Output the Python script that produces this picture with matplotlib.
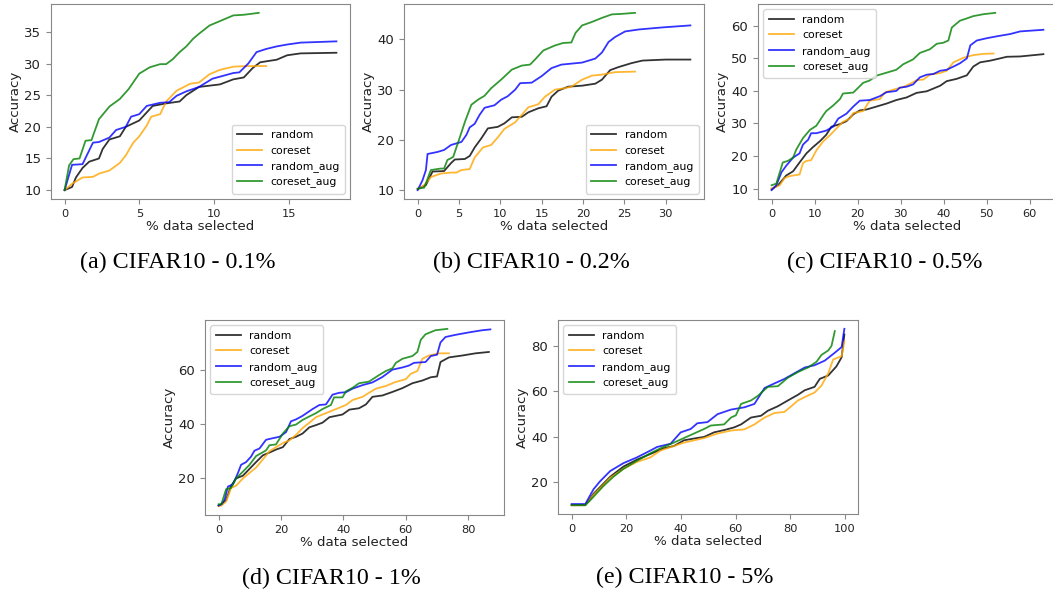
import matplotlib
matplotlib.use("Agg")
import matplotlib.pyplot as plt

# ========== データ ==========
LABELS = ['random', 'coreset', 'random_aug', 'coreset_aug']
COLORS = ['black', 'orange', 'blue', 'green']

# (a) CIFAR10 - 0.1%
a_random_x = [0, 0.5, 0.76, 1.2, 1.65, 2.3, 2.55, 3.0, 3.7, 4.1, 5.0, 5.9, 6.8, 7.7, 8.15, 9.0,
              10.4, 11.3, 12.0, 12.6, 13.1, 14.2, 14.9, 15.8, 18.2]
a_random_y = [10, 10.5, 12, 13.5, 14.5, 15, 16.5, 18, 18.5, 20, 21, 23.3, 23.7, 24, 25, 26.3,
              26.7, 27.5, 27.8, 29.3, 30.2, 30.6, 31.3, 31.6, 31.7]
a_coreset_x = [0, 0.5, 1.2, 1.9, 2.3, 3.0, 3.7, 4.1, 4.6, 5.0, 5.5, 5.8, 6.4, 6.8, 7.5, 8.4,
               9.0, 9.7, 10.4, 11.3, 12.2, 13.5]
a_coreset_y = [10, 11, 12, 12.1, 12.6, 13.1, 14.3, 15.5, 17.5, 18.5, 20.2, 21.6, 22, 24, 25.7, 26.8,
               27, 28.3, 29, 29.5, 29.6, 29.6]
a_raug_x = [0, 0.5, 1.2, 1.9, 2.3, 3.0, 3.45, 4.1, 4.45, 5.0, 5.5, 6.4, 7.0, 7.5, 8.15, 9.0,
            9.9, 11.3, 11.7, 12.3, 12.85, 13.5, 14.2, 14.9, 15.8, 18.2]
a_raug_y = [10, 14.0, 14.1, 17.5, 17.6, 18.3, 19.5, 20, 21.6, 22, 23.3, 23.8, 23.9, 24.9, 25.6, 26.3,
            27.6, 28.5, 28.6, 30, 31.8, 32.3, 32.7, 33.0, 33.3, 33.5]
a_caug_x = [0, 0.3, 0.6, 1.0, 1.4, 1.8, 2.3, 3.0, 3.7, 4.3, 5.0, 5.7, 6.4, 6.8, 7.25, 7.7,
            8.15, 8.6, 9.0, 9.7, 10.4, 11.3, 12.0, 13.0]
a_caug_y = [10, 13.9, 14.9, 15.0, 17.8, 17.9, 21.2, 23.2, 24.4, 26, 28.4, 29.4, 29.9, 29.9, 30.7, 31.8,
            32.7, 33.9, 34.7, 36, 36.7, 37.6, 37.7, 38.0]

# (b) CIFAR10 - 0.2%
b_random_x = [0, 1.0, 1.8, 3.2, 4.05, 4.5, 5.7, 6.3, 6.9, 7.7, 8.5, 9.7, 10.5, 11.4, 12.6, 13.4,
              14.6, 15.6, 16.2, 17.0, 18.2, 19.9, 21.5, 22.3, 23.3, 24.3, 25.9, 27.2, 30.0, 33.0]
b_random_y = [10.2, 11, 13.7, 13.8, 15.4, 16.1, 16.2, 16.8, 18.5, 20.3, 22.3, 22.6, 23.3, 24.5, 24.6, 25.5,
              26.3, 26.7, 28.6, 29.8, 30.6, 30.8, 31.2, 32, 33.9, 34.5, 35.3, 35.8, 36, 36]
b_coreset_x = [0, 0.8, 1.6, 2.8, 4.05, 4.7, 5.3, 6.3, 6.9, 7.9, 8.9, 9.7, 10.5, 11.8, 12.6, 13.4,
               14.6, 15.4, 16.6, 17.8, 18.6, 19.9, 21.1, 22.3, 23.9, 26.3]
b_coreset_y = [10.2, 11, 12.6, 13.3, 13.5, 13.5, 14, 14.2, 16.5, 18.5, 19, 20.5, 22.2, 23.5, 25, 26.5,
               27.1, 28.6, 30, 30.3, 30.6, 32, 32.8, 33, 33.5, 33.6]
b_raug_x = [0, 0.6, 1.0, 1.2, 2.4, 3.2, 4.05, 5.3, 5.9, 6.3, 6.9, 7.5, 8.1, 9.3, 10.1, 10.9,
            11.8, 12.4, 13.8, 15.0, 16.2, 17.4, 19.9, 21.5, 22.3, 23.1, 23.9, 25.1, 26.8, 29.6, 33.0]
b_raug_y = [10, 12, 14, 17.2, 17.6, 18, 19, 19.6, 21, 22.5, 23.2, 25, 26.4, 26.9, 28, 28.7,
            30, 31.3, 31.4, 32.7, 34.3, 35, 35.4, 36.2, 37.4, 39.5, 40.5, 41.6, 42, 42.4, 42.8]
b_caug_x = [0, 0.8, 1.6, 2.8, 3.2, 3.6, 4.3, 5.1, 5.7, 6.5, 7.3, 8.1, 8.9, 10.1, 11.4, 12.6,
            13.6, 14.2, 15.2, 16.6, 17.6, 18.6, 19.1, 19.9, 21.1, 22.3, 23.5, 24.7, 26.3]
b_caug_y = [10.3, 10.5, 14, 14.3, 14.3, 16, 16.6, 20.5, 23.5, 27, 28, 28.8, 30.3, 32, 34, 34.8,
            35, 36, 37.8, 38.8, 39.3, 39.4, 41.3, 42.8, 43.5, 44.3, 45, 45.1, 45.3]

# (c) CIFAR10 - 0.5%
c_random_x = [0, 1.5, 3.4, 5.0, 6.5, 8.1, 9.6, 11.2, 12.7, 13.9, 15.9, 17.4, 19.0, 20.5, 22.1, 24.4,
              26.7, 29.0, 31.4, 33.7, 36.1, 39.2, 40.7, 43.0, 45.4, 46.9, 48.5, 50.8, 53.1, 54.7, 57.8, 63.2]
c_random_y = [9.8, 11, 14, 15.3, 18, 20.8, 22.7, 24.5, 26.5, 29, 29.8, 30.7, 32.8, 34, 34.3, 35.2,
              36.1, 37.2, 38, 39.4, 39.9, 41.6, 43, 43.7, 44.8, 47.5, 48.8, 49.3, 50, 50.5, 50.6, 51.3]
c_coreset_x = [0, 1.9, 3.0, 4.2, 5.0, 6.5, 7.3, 8.1, 9.2, 10.4, 12.0, 13.5, 15.1, 16.6, 18.2, 19.0,
               21.3, 22.8, 25.2, 26.3, 28.3, 30.6, 32.2, 33.7, 35.3, 36.8, 39.2, 40.7, 42.3, 44.6, 46.9,
               49.3, 51.6]
c_coreset_y = [10, 11, 13.2, 13.8, 14, 14.3, 17.8, 18.5, 18.7, 21.7, 24.5, 26.3, 28.5, 30.5, 31.5, 33.2,
               33.8, 37, 37.5, 39.5, 40.4, 41.2, 42.2, 43.3, 43.5, 45, 45.5, 46.2, 48.8, 50.2, 51,
               51.4, 51.5]
c_raug_x = [0, 1.1, 2.3, 3.4, 5.0, 6.5, 7.3, 8.5, 9.2, 10.4, 12.7, 14.3, 15.5, 17.4, 19.0, 20.5,
            22.8, 25.2, 26.7, 29.0, 29.8, 31.4, 32.9, 34.5, 36.1, 37.6, 39.2, 40.7, 42.3, 43.8, 45.4,
            46.2, 47.7, 50.0, 52.4, 55.5, 57.8, 63.2]
c_raug_y = [9.5, 11, 15, 17, 19.5, 20.8, 23.5, 25, 27, 27, 27.8, 29, 31.5, 33, 35.2, 37,
            37.2, 38.4, 39.6, 40, 41, 41.3, 42, 44.2, 45, 45.2, 46.2, 46.5, 47.5, 48.5, 50,
            54, 55.5, 56.2, 56.8, 57.5, 58.3, 58.8]
c_caug_x = [0, 1.1, 2.6, 3.8, 5.0, 5.75, 7.3, 8.9, 10.4, 12.0, 12.7, 14.3, 15.9, 16.6, 19.0, 21.3,
            22.8, 24.4, 26.7, 29.0, 30.6, 32.9, 34.5, 36.8, 38.4, 39.9, 41.1, 41.9, 43.8, 45.4, 46.9,
            49.3, 52.0]
c_caug_y = [11, 11.5, 18, 18.5, 19.5, 22, 25.5, 28, 29.3, 32.5, 33.8, 35.5, 37.5, 39.2, 39.5, 42.5,
            43.2, 44.7, 45.6, 46.5, 48.2, 49.7, 51.7, 52.8, 54.5, 54.8, 55.5, 59.5, 61.6, 62.3, 63,
            63.6, 64]

# (d) CIFAR10 - 1%
d_random_x = [0, 0.9, 2.4, 4.0, 5.6, 7.8, 9.9, 12.0, 14.2, 16.3, 18.4, 20.6, 22.7, 24.8, 26.9, 29.1,
              31.2, 33.3, 35.5, 37.6, 39.7, 41.9, 45.0, 47.2, 49.3, 52.5, 55.7, 58.9, 62.1, 65.3, 68.0,
              70.0, 71.1, 73.8, 78.1, 82.3, 86.6]
d_random_y = [10, 10.5, 12, 17.2, 20, 21, 23.5, 26, 28.5, 29.5, 30.6, 31.5, 34.5, 35.3, 36.5, 38.8,
              39.6, 40.5, 42.5, 43, 43.5, 45.3, 45.8, 47.2, 50, 50.5, 51.8, 53.2, 55, 56, 57.2,
              57.5, 62.8, 64.5, 65.2, 66, 66.5]
d_coreset_x = [0, 0.9, 2.4, 4.0, 5.6, 7.8, 9.9, 12.0, 14.2, 16.3, 18.4, 20.6, 22.7, 24.8, 26.9, 29.1,
               31.2, 34.4, 37.6, 40.8, 42.9, 46.1, 48.2, 50.4, 53.6, 56.8, 60.0, 61.6, 63.7, 65.3, 67.4,
               70.6, 73.8]
d_coreset_y = [9.8, 10, 11.5, 16.5, 17.3, 20, 22, 24, 27, 30, 31.5, 33, 34, 36, 38.5, 40.5,
               42.5, 44, 45.5, 47, 48.8, 50, 51.5, 53, 54, 55.5, 56.5, 58.5, 59.5, 64, 65.2,
               66, 66]
d_raug_x = [0, 0.9, 1.9, 3.0, 4.6, 6.2, 7.2, 8.8, 10.4, 11.5, 13.1, 15.2, 17.4, 19.5, 21.6, 23.2,
            24.8, 26.9, 30.1, 32.3, 34.4, 36.5, 38.7, 40.8, 42.9, 46.1, 49.3, 52.5, 55.7, 58.9, 61.0,
            62.6, 66.3, 68.0, 70.0, 71.1, 72.7, 75.9, 80.2, 84.5, 87.1]
d_raug_y = [10, 10.5, 12, 17, 17.8, 22, 25, 26, 28, 30.2, 31, 34.2, 34.8, 35.3, 37, 41,
            41.7, 43, 45.5, 47, 47.2, 50.8, 51.5, 51.7, 53, 54.3, 55.3, 57.3, 60, 60.8, 61.5,
            62.5, 62.8, 65, 65.5, 70, 72, 72.8, 73.7, 74.5, 74.8]
d_caug_x = [0, 0.9, 2.4, 4.0, 5.6, 7.8, 9.9, 12.0, 15.2, 16.3, 18.4, 20.6, 22.7, 24.8, 26.9, 29.1,
            31.2, 33.3, 36.0, 37.0, 39.7, 40.8, 42.9, 45.0, 48.2, 51.4, 53.6, 55.7, 56.8, 58.9, 62.1,
            63.7, 64.8, 66.3, 69.5, 73.3]
d_caug_y = [10.5, 10.5, 16, 16.5, 20, 22.5, 25, 28.2, 30.3, 32.2, 32.5, 36.5, 39.2, 39.8, 41.5, 42.8,
            44, 45.5, 47, 49.8, 49.8, 52, 53.3, 55, 55.6, 58, 59.5, 60.5, 62.5, 64, 65,
            66.5, 71, 73, 74.5, 75]

# (e) CIFAR10 - 5%
e_random_x = [0, 5, 8, 14.1, 19.0, 23.9, 28.8, 33.7, 37.4, 41.1, 44.8, 48.5, 52.1, 55.8, 59.5, 62.0,
              65.6, 69.3, 71.8, 75.5, 79.1, 82.8, 85.3, 88.9, 90.8, 93.9, 96.9, 98.8, 99.8]
e_random_y = [10, 10, 15, 22.5, 27, 30, 32.5, 35, 36, 38.5, 39.3, 40, 42, 43, 44.2, 45.5,
              48.5, 49.3, 51.5, 53.5, 56, 58.5, 60.5, 62, 65.5, 67, 71, 75, 85]
e_coreset_x = [0, 5, 8, 14.1, 19.0, 23.9, 28.8, 32.5, 37.4, 41.1, 44.8, 48.5, 53.4, 58.3, 63.2, 66.9,
               70.6, 74.2, 77.9, 80.4, 82.8, 85.3, 88.9, 91.4, 93.9, 95.7, 98.8, 99.8]
e_coreset_y = [10, 10, 14.5, 22, 26, 29, 31, 34, 36, 37.5, 38.5, 39.5, 41.5, 42.8, 43.3, 45.5,
               48.5, 50.5, 51, 53.5, 56, 57.5, 59.5, 62.5, 68, 74, 75.5, 82]
e_raug_x = [0, 5, 8, 10.4, 14.1, 19.0, 23.9, 28.8, 31.3, 36.2, 39.9, 43.6, 46.0, 49.7, 53.4, 58.3,
            63.2, 66.9, 70.6, 74.2, 77.9, 81.6, 85.3, 88.9, 92.6, 96.3, 98.8, 99.8]
e_raug_y = [10.5, 10.5, 17, 20.5, 25, 28.5, 31, 34, 35.6, 37, 42, 43.5, 46, 46.5, 50, 52,
            53, 54.5, 61.5, 63.5, 65.5, 68, 70.5, 71.5, 73.5, 77, 79.5, 87.5]
e_caug_x = [0, 5, 6.7, 11.7, 15.3, 19.0, 23.9, 28.8, 32.5, 37.4, 41.1, 44.8, 48.5, 50.9, 55.8, 58.3,
            60.1, 62.0, 65.6, 68.1, 71.8, 75.5, 79.1, 82.8, 86.5, 89.6, 91.4, 93.9, 95.1, 96.3]
e_caug_y = [10, 10, 12, 18.5, 22.5, 26, 29.5, 32.8, 35, 37.5, 39.5, 41.5, 43.5, 45, 45.5, 48.5,
            49.5, 54.5, 56, 58, 62, 62.3, 66, 68.5, 70.5, 73, 76, 78, 80, 86.5]

CAPTIONS = ['(a) CIFAR10 - 0.1%', '(b) CIFAR10 - 0.2%', '(c) CIFAR10 - 0.5%',
            '(d) CIFAR10 - 1%', '(e) CIFAR10 - 5%']

# ========== レイアウト (px → 図座標) ==========
FW, FH = 1053, 594
# 左, 上, 右, 下 (px)
BOXES = [(51, 4, 350, 199), (404, 4, 704, 199), (758, 4, 1057, 199),
         (205, 320, 504, 515), (558, 320, 858, 514)]
LEG_LOC = ['lower right', 'lower right', 'upper left', 'upper left', 'upper left']
XTICKS = [[0, 5, 10, 15], [0, 5, 10, 15, 20, 25, 30], [0, 10, 20, 30, 40, 50, 60],
          [0, 20, 40, 60, 80], [0, 20, 40, 60, 80, 100]]
YTICKS = [[10, 15, 20, 25, 30, 35], [10, 20, 30, 40], [10, 20, 30, 40, 50, 60],
          [20, 40, 60], [20, 40, 60, 80]]

panels = [
    [(a_random_x, a_random_y), (a_coreset_x, a_coreset_y), (a_raug_x, a_raug_y), (a_caug_x, a_caug_y)],
    [(b_random_x, b_random_y), (b_coreset_x, b_coreset_y), (b_raug_x, b_raug_y), (b_caug_x, b_caug_y)],
    [(c_random_x, c_random_y), (c_coreset_x, c_coreset_y), (c_raug_x, c_raug_y), (c_caug_x, c_caug_y)],
    [(d_random_x, d_random_y), (d_coreset_x, d_coreset_y), (d_raug_x, d_raug_y), (d_caug_x, d_caug_y)],
    [(e_random_x, e_random_y), (e_coreset_x, e_coreset_y), (e_raug_x, e_raug_y), (e_caug_x, e_caug_y)],
]

fig = plt.figure(figsize=(FW / 100, FH / 100), dpi=100)
fig.patch.set_facecolor('white')

for i, series in enumerate(panels):
    l, t, r, b = BOXES[i]
    ax = fig.add_axes([l / FW, 1 - b / FH, (r - l) / FW, (b - t) / FH])
    for (xs, ys), lab, col in zip(series, LABELS, COLORS):
        ax.plot(xs, ys, color=col, alpha=0.8, lw=1.3, label=lab)

    ax.set_xticks(XTICKS[i])
    ax.set_yticks(YTICKS[i])
    ax.tick_params(axis='x', labelsize=8.2, colors='#888888', labelcolor='#222222', length=3.5)
    ax.tick_params(axis='y', labelsize=9.5, colors='#888888', labelcolor='#222222', length=3.5)
    for s in ax.spines.values():
        s.set_color('#888888')
    ax.set_xlabel('% data selected', fontsize=9.6, color='#222222', labelpad=1)
    ax.set_ylabel('Accuracy', fontsize=9.6, color='#222222', labelpad=2)
    ax.legend(loc=LEG_LOC[i], fontsize=7.8, handlelength=2.3, borderpad=0.5,
              labelspacing=0.5, framealpha=0.8)

    # キャプション (サブ図全体の中央 = 軸中央より少し左)
    cx = ((l + r) / 2 - 23) / FW
    cy = 1 - (b + 63) / FH
    fig.text(cx, cy, CAPTIONS[i], ha='center', va='center',
             fontsize=17.3, family='Liberation Serif')

fig.savefig('out.png', dpi=100, facecolor='white')
